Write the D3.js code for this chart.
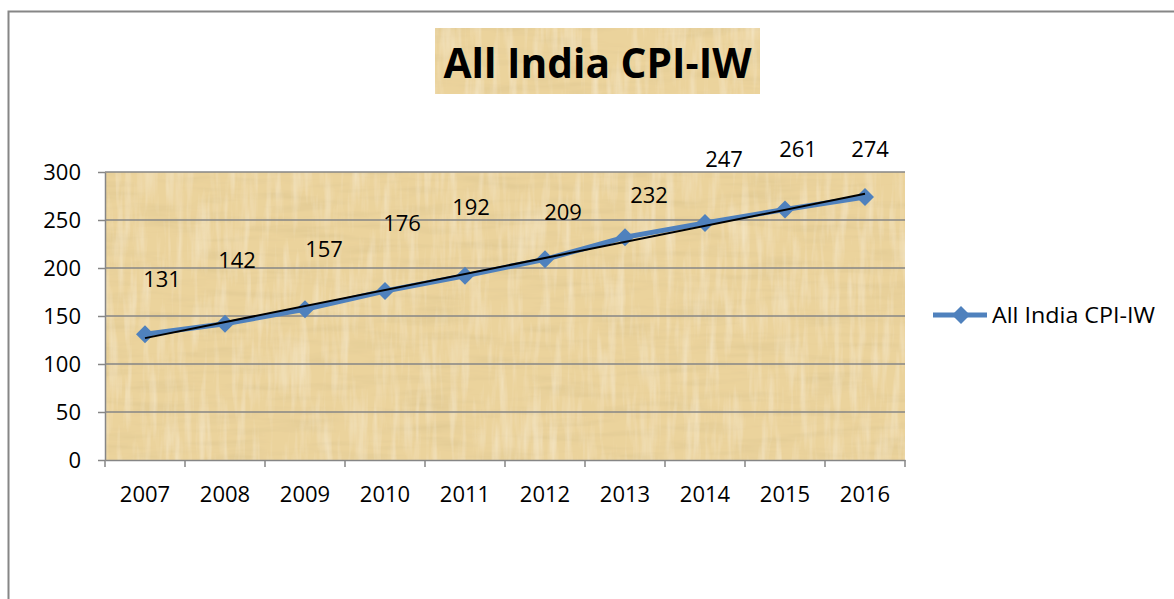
<!DOCTYPE html>
<html>
<head>
<meta charset="utf-8">
<script src="https://cdn.jsdelivr.net/npm/d3@7"></script>
<style>
  html, body { margin: 0; padding: 0; background: #ffffff; }
  svg { display: block; }
  text { font-family: "Open Sans", "Noto Sans", sans-serif; fill: #000; }
</style>
</head>
<body>
<svg id="chart" width="1174" height="599"></svg>
<script>
// ---- data ----
const categories = ["2007", "2008", "2009", "2010", "2011", "2012", "2013", "2014", "2015", "2016"];
const cpiValues = [131, 142, 157, 176, 192, 209, 232, 247, 261, 274];
const yTicks = [0, 50, 100, 150, 200, 250, 300];
const seriesName = "All India CPI-IW";
const chartTitle = "All India CPI-IW";
// manual nudges of data labels (dx, dy from marker), as placed in the original
const labelDx = [17, 12, 19, 17, 6, 18, 24, 19, 13, 5];
const labelDy = [-47, -56, -52, -60, -61, -39, -34, -56, -52, -40];

// ---- layout ----
const W = 1174, H = 599;
const plot = { left: 105, right: 905, top: 172, bottom: 460 };
const blue = "#4F81BD", grid = "#868686";

const svg = d3.select("#chart");
const defs = svg.append("defs");

// papyrus-like texture (woven fibres in two directions)
const f = defs.append("filter").attr("id", "papyrus").attr("x", 0).attr("y", 0).attr("width", 1).attr("height", 1);
f.append("feTurbulence").attr("type", "fractalNoise").attr("baseFrequency", "0.015 0.12").attr("numOctaves", 3).attr("seed", 4).attr("result", "n1");
f.append("feColorMatrix").attr("in", "n1").attr("type", "matrix")
  .attr("values", "0 0 0 0 0.66  0 0 0 0 0.52  0 0 0 0 0.25  0.9 0 0 0 -0.40").attr("result", "c1");
f.append("feTurbulence").attr("type", "fractalNoise").attr("baseFrequency", "0.12 0.015").attr("numOctaves", 3).attr("seed", 9).attr("result", "n2");
f.append("feColorMatrix").attr("in", "n2").attr("type", "matrix")
  .attr("values", "0 0 0 0 0.98  0 0 0 0 0.92  0 0 0 0 0.76  0.9 0 0 0 -0.40").attr("result", "c2");
f.append("feMerge").selectAll("feMergeNode").data(["SourceGraphic", "c1", "c2"]).join("feMergeNode").attr("in", d => d);

// outer chart border (clipped at right / bottom as in original)
svg.append("rect").attr("x", 8.5).attr("y", 11.5).attr("width", W + 20).attr("height", H + 20)
  .attr("fill", "none").attr("stroke", "#868686").attr("stroke-width", 2);

// ---- scales ----
const x = d3.scaleBand().domain(categories).range([plot.left, plot.right]).paddingInner(0).paddingOuter(0);
const y = d3.scaleLinear().domain([0, 300]).range([plot.bottom, plot.top]);
const cx = d => x(d) + x.bandwidth() / 2;

// plot background
svg.append("rect").attr("x", plot.left).attr("y", plot.top)
  .attr("width", plot.right - plot.left).attr("height", plot.bottom - plot.top)
  .attr("fill", "#EBD39C").attr("filter", "url(#papyrus)");

// gridlines
svg.append("g").selectAll("line").data(yTicks.filter(t => t > 0)).join("line")
  .attr("x1", plot.left).attr("x2", plot.right)
  .attr("y1", d => y(d)).attr("y2", d => y(d))
  .attr("stroke", grid).attr("stroke-width", 1.5);

// y axis
const yAxis = svg.append("g").attr("transform", `translate(${plot.left},0)`)
  .call(d3.axisLeft(y).tickValues(yTicks).tickSize(7).tickPadding(17).tickSizeOuter(0));
yAxis.select(".domain").attr("stroke", grid).attr("stroke-width", 1.5);
yAxis.selectAll(".tick line").attr("stroke", grid).attr("stroke-width", 1.5);
yAxis.selectAll(".tick text").attr("font-size", 22).attr("font-family", "'Open Sans', sans-serif").attr("fill", "#000");

// x axis
const xAxis = svg.append("g").attr("transform", `translate(0,${plot.bottom})`)
  .call(d3.axisBottom(x).tickSize(0).tickPadding(26));
xAxis.select(".domain").attr("stroke", grid).attr("stroke-width", 1.5);
xAxis.selectAll(".tick text").attr("font-size", 22).attr("font-family", "'Open Sans', sans-serif").attr("fill", "#000");
// boundary tick marks between categories
const bounds = categories.map(c => x(c)).concat([x(categories[categories.length - 1]) + x.bandwidth()]);
svg.append("g").selectAll("line").data(bounds).join("line")
  .attr("x1", d => d).attr("x2", d => d)
  .attr("y1", plot.bottom).attr("y2", plot.bottom + 7)
  .attr("stroke", grid).attr("stroke-width", 1.5);

// series line
const line = d3.line().x((d, i) => cx(categories[i])).y(d => y(d));
svg.append("path").datum(cpiValues).attr("d", line)
  .attr("fill", "none").attr("stroke", blue).attr("stroke-width", 5).attr("stroke-linejoin", "round");

// markers
const diamond = "M0,-9L9,0L0,9L-9,0Z";
svg.append("g").selectAll("path").data(cpiValues).join("path")
  .attr("d", diamond)
  .attr("transform", (d, i) => `translate(${cx(categories[i])},${y(d)})`)
  .attr("fill", blue);

// linear trendline (least squares on the series)
const n = cpiValues.length;
const xs = d3.range(n);
const mx = d3.mean(xs), my = d3.mean(cpiValues);
const slope = d3.sum(xs, i => (i - mx) * (cpiValues[i] - my)) / d3.sum(xs, i => (i - mx) * (i - mx));
const icpt = my - slope * mx;
svg.append("line")
  .attr("x1", cx(categories[0])).attr("y1", y(icpt))
  .attr("x2", cx(categories[n - 1])).attr("y2", y(icpt + slope * (n - 1)))
  .attr("stroke", "#000").attr("stroke-width", 2);

// data labels
svg.append("g").selectAll("text").data(cpiValues).join("text")
  .attr("x", (d, i) => cx(categories[i]) + labelDx[i])
  .attr("y", (d, i) => y(d) + labelDy[i])
  .attr("text-anchor", "middle").attr("font-size", 22)
  .text(d => d);

// title box
const titleBox = { x: 435, y: 28, w: 325, h: 66 };
svg.append("rect").attr("x", titleBox.x).attr("y", titleBox.y).attr("width", titleBox.w).attr("height", titleBox.h)
  .attr("fill", "#EBD39C").attr("filter", "url(#papyrus)");
svg.append("text").attr("x", titleBox.x + titleBox.w / 2).attr("y", 78)
  .attr("text-anchor", "middle").attr("font-size", 42).attr("font-weight", "bold")
  .attr("textLength", 308).attr("lengthAdjust", "spacingAndGlyphs")
  .text(chartTitle);

// legend
const lg = svg.append("g").attr("transform", "translate(933,315)");
lg.append("line").attr("x1", 0).attr("x2", 54).attr("y1", 0).attr("y2", 0)
  .attr("stroke", blue).attr("stroke-width", 5);
lg.append("path").attr("d", diamond).attr("transform", "translate(28,0)").attr("fill", blue);
lg.append("text").attr("x", 59).attr("y", 8).attr("font-size", 22)
  .attr("textLength", 163).attr("lengthAdjust", "spacingAndGlyphs").text(seriesName);
</script>
</body>
</html>
